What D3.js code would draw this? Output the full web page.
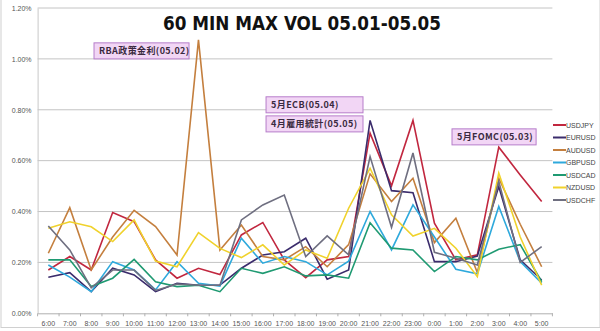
<!DOCTYPE html>
<html><head><meta charset="utf-8">
<script src="https://cdn.jsdelivr.net/npm/d3@7/dist/d3.min.js"></script>
<style>body{margin:0;background:#fff}svg{display:block}</style>
</head><body>
<script>
const categories = ["6:00","7:00","8:00","9:00","10:00","11:00","12:00","13:00","14:00","15:00","16:00","17:00","18:00","19:00","20:00","21:00","22:00","23:00","0:00","1:00","2:00","3:00","4:00","5:00"];
const USDJPY = [0.170,0.223,0.170,0.396,0.360,0.210,0.138,0.177,0.152,0.308,0.357,0.210,0.140,0.210,0.223,0.708,0.501,0.758,0.354,0.210,0.230,0.653,0.544,0.439];
const EURUSD = [0.142,0.160,0.085,0.177,0.151,0.085,0.118,0.110,0.111,0.177,0.229,0.242,0.295,0.134,0.170,0.758,0.482,0.474,0.203,0.203,0.225,0.498,0.210,0.131];
const AUDUSD = [0.236,0.415,0.170,0.300,0.405,0.341,0.229,1.075,0.249,0.347,0.223,0.210,0.262,0.183,0.270,0.548,0.439,0.531,0.278,0.374,0.160,0.531,0.350,0.183];
const GBPUSD = [0.190,0.142,0.085,0.203,0.170,0.092,0.203,0.118,0.107,0.295,0.197,0.223,0.203,0.151,0.205,0.400,0.249,0.426,0.300,0.173,0.155,0.420,0.203,0.118];
const USDCAD = [0.210,0.210,0.105,0.138,0.212,0.124,0.105,0.110,0.085,0.177,0.157,0.183,0.147,0.151,0.138,0.356,0.256,0.249,0.164,0.223,0.210,0.252,0.270,0.124];
const NZDUSD = [0.334,0.360,0.340,0.282,0.367,0.205,0.183,0.317,0.255,0.219,0.269,0.190,0.249,0.216,0.413,0.570,0.387,0.304,0.334,0.256,0.144,0.551,0.300,0.111];
const USDCHF = [0.343,0.249,0.100,0.170,0.170,0.090,0.115,0.110,0.110,0.367,0.426,0.465,0.223,0.304,0.230,0.616,0.338,0.630,0.240,0.216,0.190,0.518,0.200,0.262];
const seriesNames = ["USDJPY","EURUSD","AUDUSD","GBPUSD","USDCAD","NZDUSD","USDCHF"];
const seriesValues = [USDJPY,EURUSD,AUDUSD,GBPUSD,USDCAD,NZDUSD,USDCHF];
const seriesColors = ["#c1273f","#3b2c6c","#c47f3e","#2ea9dc","#1f9a72","#f0d22c","#6f6f80"];
const yTicks = [0,0.2,0.4,0.6,0.8,1.0,1.2];
const title = "60 MIN MAX VOL 05.01-05.05";
const annotations = [
  {text:"RBA政策金利(05.02)", i0:2.13, i1:6.56, top:1.063, bottom:1.0},
  {text:"5月ECB(05.04)", i0:10.15, i1:14.67, top:0.851, bottom:0.788},
  {text:"4月雇用統計(05.05)", i0:10.15, i1:14.67, top:0.776, bottom:0.713},
  {text:"5月FOMC(05.03)", i0:18.82, i1:22.74, top:0.725, bottom:0.662}
];

(function(){
const W=600,H=331;
const svg=d3.select("body").append("svg").attr("width",W).attr("height",H);
const pL=37.6,pR=552.4,pT=8,pB=313.3;
const x=d3.scaleBand().domain(categories).range([pL,pR]).padding(0);
const cx=c=>x(c)+x.bandwidth()/2;
const xAt=i=>cx(categories[0])+i*x.step();
const y=d3.scaleLinear().domain([0,1.2]).range([pB,pT]);

// frame
svg.append("rect").attr("x",1).attr("y",-2).attr("width",W-1).attr("height",329.5)
  .attr("fill","none").attr("stroke","#d0d0d0").attr("stroke-width",1);

// grid
svg.append("g").selectAll("line").data(yTicks.slice(1)).join("line")
  .attr("x1",pL).attr("x2",pR).attr("y1",d=>y(d)).attr("y2",d=>y(d))
  .attr("stroke","#c4c4c4").attr("stroke-width",1);

// y axis
const ya=svg.append("g").attr("transform",`translate(${pL},0)`)
  .call(d3.axisLeft(y).tickValues(yTicks).tickFormat(d=>d.toFixed(2)+"%").tickSize(0).tickPadding(6));
ya.select(".domain").attr("stroke","#c8c8c8");
ya.selectAll("text").attr("font-family","Liberation Sans, Arial, sans-serif").attr("font-size",7).attr("fill","#555");

// x axis
const xa=svg.append("g").attr("transform",`translate(0,${pB})`)
  .call(d3.axisBottom(x).tickSize(0).tickPadding(8));
xa.select(".domain").attr("stroke","#b0b0b0");
xa.selectAll("text").attr("font-family","Liberation Sans, Arial, sans-serif").attr("font-size",7).attr("fill","#555");
svg.append("g").selectAll("line").data(categories.concat(["__end"])).join("line")
  .attr("x1",(d,i)=>pL+i*x.step()).attr("x2",(d,i)=>pL+i*x.step())
  .attr("y1",pB).attr("y2",pB+3).attr("stroke","#b0b0b0");

// lines
const line=d3.line().x((d,i)=>cx(categories[i])).y(d=>y(d));
svg.append("g").selectAll("path").data(seriesValues).join("path")
  .attr("d",d=>line(d)).attr("fill","none")
  .attr("stroke",(d,i)=>seriesColors[i]).attr("stroke-width",1.6).attr("stroke-linejoin","miter");

// legend
const lg=svg.append("g").selectAll("g").data(seriesNames).join("g")
  .attr("transform",(d,i)=>`translate(553,${125+i*12.5})`);
lg.append("line").attr("x1",0).attr("x2",13).attr("stroke",(d,i)=>seriesColors[i]).attr("stroke-width",2);
lg.append("text").attr("x",13).attr("y",2.5).text(d=>d)
  .attr("font-family","Liberation Sans Narrow, Liberation Sans, Arial, sans-serif").attr("font-size",7).attr("fill","#444");

// title
svg.append("text").attr("x",302).attr("y",30).attr("text-anchor","middle")
  .attr("font-family","DejaVu Sans Condensed, DejaVu Sans, sans-serif").attr("font-weight","bold")
  .attr("font-size",20).attr("fill","#111").attr("textLength",278).attr("lengthAdjust","spacingAndGlyphs").text(title);

// annotations
const ag=svg.append("g").selectAll("g").data(annotations).join("g");
ag.append("rect").attr("x",d=>xAt(d.i0)).attr("y",d=>y(d.top))
  .attr("width",d=>xAt(d.i1)-xAt(d.i0)).attr("height",d=>y(d.bottom)-y(d.top))
  .attr("fill","#f2d6f5").attr("stroke","#b67dca").attr("stroke-width",1);
ag.append("text").attr("x",d=>xAt(d.i0)+5).attr("y",d=>(y(d.top)+y(d.bottom))/2+3.3)
  .attr("font-family","Noto Sans CJK JP, sans-serif").attr("font-weight","bold").attr("font-size",9)
  .attr("fill","#3a2a40").attr("letter-spacing",0.4).text(d=>d.text);
})();
</script>
</body></html>
